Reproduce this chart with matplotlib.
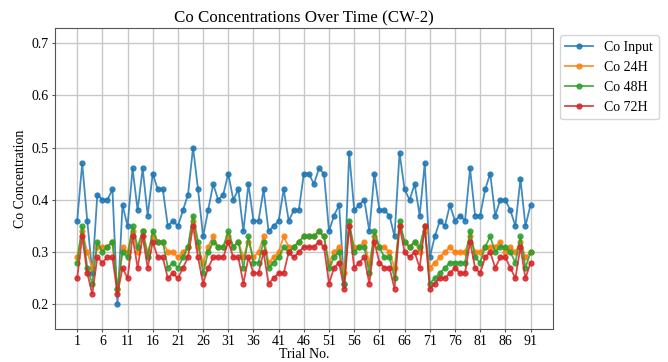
import matplotlib
matplotlib.use("Agg")
import matplotlib.pyplot as plt

trials = list(range(1, 92))

co_input = [
    0.36, 0.47, 0.36, 0.26, 0.41, 0.40, 0.40, 0.42, 0.20, 0.39,
    0.35, 0.46, 0.38, 0.46, 0.37, 0.45, 0.42, 0.42, 0.35, 0.36,
    0.35, 0.38, 0.41, 0.50, 0.42, 0.33, 0.38, 0.43, 0.40, 0.41,
    0.45, 0.40, 0.42, 0.34, 0.43, 0.36, 0.36, 0.42, 0.34, 0.35,
    0.36, 0.42, 0.36, 0.38, 0.38, 0.45, 0.45, 0.43, 0.46, 0.45,
    0.34, 0.37, 0.39, 0.24, 0.49, 0.38, 0.39, 0.40, 0.34, 0.45,
    0.38, 0.38, 0.37, 0.33, 0.49, 0.42, 0.40, 0.43, 0.37, 0.47,
    0.29, 0.33, 0.36, 0.35, 0.39, 0.36, 0.37, 0.36, 0.46, 0.37,
    0.37, 0.42, 0.45, 0.37, 0.40, 0.40, 0.38, 0.35, 0.44, 0.35,
    0.39,
]

co_24h = [
    0.29, 0.34, 0.30, 0.27, 0.31, 0.31, 0.31, 0.32, 0.23, 0.31,
    0.30, 0.34, 0.30, 0.34, 0.30, 0.33, 0.32, 0.32, 0.30, 0.30,
    0.29, 0.30, 0.31, 0.36, 0.31, 0.28, 0.31, 0.33, 0.31, 0.31,
    0.33, 0.31, 0.32, 0.29, 0.32, 0.29, 0.30, 0.33, 0.28, 0.29,
    0.30, 0.33, 0.31, 0.31, 0.32, 0.33, 0.33, 0.33, 0.34, 0.33,
    0.28, 0.30, 0.31, 0.26, 0.35, 0.31, 0.31, 0.32, 0.28, 0.33,
    0.31, 0.31, 0.30, 0.27, 0.35, 0.32, 0.31, 0.32, 0.30, 0.34,
    0.27, 0.28, 0.29, 0.30, 0.31, 0.30, 0.30, 0.30, 0.33, 0.30,
    0.30, 0.31, 0.31, 0.31, 0.32, 0.30, 0.31, 0.30, 0.32, 0.29,
    0.30,
]

co_48h = [
    0.28, 0.35, 0.27, 0.24, 0.32, 0.30, 0.31, 0.32, 0.23, 0.30,
    0.29, 0.35, 0.31, 0.34, 0.29, 0.34, 0.32, 0.32, 0.27, 0.28,
    0.27, 0.29, 0.31, 0.37, 0.32, 0.26, 0.30, 0.32, 0.31, 0.31,
    0.34, 0.31, 0.32, 0.27, 0.33, 0.28, 0.28, 0.32, 0.27, 0.28,
    0.29, 0.31, 0.30, 0.31, 0.32, 0.33, 0.33, 0.33, 0.34, 0.33,
    0.27, 0.29, 0.30, 0.24, 0.36, 0.30, 0.31, 0.31, 0.26, 0.34,
    0.31, 0.29, 0.29, 0.25, 0.36, 0.32, 0.31, 0.32, 0.31, 0.35,
    0.24, 0.25, 0.26, 0.27, 0.28, 0.28, 0.28, 0.28, 0.34, 0.29,
    0.28, 0.31, 0.33, 0.30, 0.31, 0.31, 0.30, 0.28, 0.33, 0.27,
    0.30,
]

co_72h = [
    0.25, 0.33, 0.26, 0.22, 0.29, 0.28, 0.29, 0.29, 0.22, 0.27,
    0.25, 0.33, 0.27, 0.33, 0.27, 0.32, 0.29, 0.29, 0.25, 0.26,
    0.25, 0.27, 0.29, 0.35, 0.29, 0.24, 0.27, 0.29, 0.29, 0.29,
    0.32, 0.29, 0.29, 0.24, 0.29, 0.26, 0.26, 0.30, 0.24, 0.25,
    0.26, 0.26, 0.30, 0.29, 0.30, 0.31, 0.31, 0.31, 0.32, 0.31,
    0.24, 0.27, 0.28, 0.23, 0.35, 0.27, 0.28, 0.29, 0.24, 0.32,
    0.28, 0.27, 0.27, 0.23, 0.35, 0.30, 0.29, 0.30, 0.27, 0.35,
    0.23, 0.24, 0.25, 0.25, 0.26, 0.27, 0.26, 0.26, 0.32, 0.27,
    0.26, 0.29, 0.30, 0.27, 0.29, 0.29, 0.27, 0.25, 0.31, 0.25,
    0.28,
]

series = [
    ("Co Input", co_input, "#1f77b4"),
    ("Co 24H", co_24h, "#ff7f0e"),
    ("Co 48H", co_48h, "#2ca02c"),
    ("Co 72H", co_72h, "#d62728"),
]

plt.rcParams["font.family"] = ["Liberation Serif", "DejaVu Serif"]

fig = plt.figure(figsize=(6.68, 3.62), dpi=100)
ax = fig.add_axes([0.0816, 0.091, 0.7465, 0.831])

for label, vals, color in series:
    ax.plot(trials, vals, marker="o", markersize=3.5, linewidth=1.3,
            color=color, alpha=0.85, label=label)

ax.set_xticks(trials[::5])
ax.set_ylim(0.153, 0.728)
ax.set_yticks([0.2, 0.3, 0.4, 0.5, 0.6, 0.7])
ax.tick_params(labelsize=10, length=2.5, pad=2, color="#555555")
ax.grid(True, color="#c8c8c8", linewidth=1.0)
ax.set_axisbelow(True)
for sp in ax.spines.values():
    sp.set_color("#555555")

ax.set_title("Co Concentrations Over Time (CW-2)", fontsize=12.2, pad=4)
ax.set_xlabel("Trial No.", fontsize=10, labelpad=0)
ax.set_ylabel("Co Concentration", fontsize=10, labelpad=3)

ax.legend(loc="upper left", bbox_to_anchor=(1.005, 0.99), fontsize=10,
          borderaxespad=0.3)

fig.savefig("out.png", dpi=100)
